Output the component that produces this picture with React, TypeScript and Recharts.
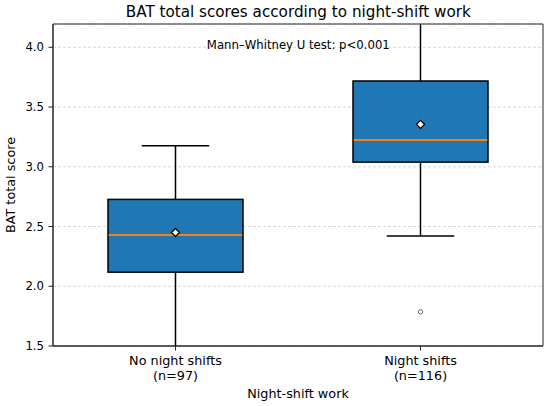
import React from 'react';
import { ComposedChart, Bar, XAxis, YAxis, CartesianGrid, ReferenceArea } from 'recharts';

const categories = ['No night shifts', 'Night shifts'];
const sampleSizes = [97, 116];
const q1Values = [2.118, 3.039];
const medianValues = [2.428, 3.224];
const q3Values = [2.727, 3.718];
const meanValues = [2.45, 3.355];
const whiskerLow = [1.35, 2.42];
const whiskerHigh = [3.176, 4.45];
const outlierValues: number[][] = [[], [1.786]];
const yTicks = [1.5, 2.0, 2.5, 3.0, 3.5, 4.0];
const yDomain: [number, number] = [1.5, 4.195];

const data = categories.map((name, i) => ({
  name,
  n: sampleSizes[i],
  q1: q1Values[i],
  median: medianValues[i],
  q3: q3Values[i],
  mean: meanValues[i],
  wlo: whiskerLow[i],
  whi: whiskerHigh[i],
  outliers: outlierValues[i],
}));

const FONT = '"DejaVu Sans", sans-serif';
const AXIS = '#262626';

const BoxShape = (props: any) => {
  const { x, y, width, height, payload } = props;
  if (payload == null || !height) return null;
  const k = height / (payload.q3 - payload.q1);
  const py = (v: number) => y + (payload.q3 - v) * k;
  const cx = x + width / 2;
  const capHalf = width / 4;
  const my = py(payload.mean);
  const d = 4;
  return (
    <g>
      <line x1={cx} x2={cx} y1={py(payload.q3)} y2={py(payload.whi)} stroke="#000" strokeWidth={1.5} />
      <line x1={cx} x2={cx} y1={py(payload.q1)} y2={py(payload.wlo)} stroke="#000" strokeWidth={1.5} />
      <line x1={cx - capHalf} x2={cx + capHalf} y1={py(payload.whi)} y2={py(payload.whi)} stroke="#000" strokeWidth={1.5} />
      <line x1={cx - capHalf} x2={cx + capHalf} y1={py(payload.wlo)} y2={py(payload.wlo)} stroke="#000" strokeWidth={1.5} />
      <rect x={x} y={y} width={width} height={height} fill="#1f77b4" stroke="#000" strokeWidth={1.5} />
      <line x1={x + 0.75} x2={x + width - 0.75} y1={py(payload.median)} y2={py(payload.median)} stroke="#ff7f0e" strokeWidth={2} />
      <polygon
        points={`${cx},${my - d} ${cx + d},${my} ${cx},${my + d} ${cx - d},${my}`}
        fill="#fff"
        stroke="#000"
        strokeWidth={1.3}
      />
      {payload.outliers.map((o: number, j: number) => (
        <circle key={j} cx={cx} cy={py(o)} r={2.2} fill="#fff" stroke="#666" strokeWidth={1} />
      ))}
    </g>
  );
};

const XTick = (props: any) => {
  const { x, y, payload, index } = props;
  const n = sampleSizes[index] ?? data.find((r) => r.name === payload.value)?.n;
  return (
    <text x={x} y={y} textAnchor="middle" fontFamily={FONT} fontSize={12.8} fill="#000">
      <tspan x={x} dy={12.7}>{payload.value}</tspan>
      <tspan x={x} dy={14.3}>{`(n=${n})`}</tspan>
    </text>
  );
};

export default function App() {
  return (
    <div style={{ position: 'absolute', left: 0, top: 0, width: 550, height: 406, background: '#fff' }}>
      <ComposedChart
        width={550}
        height={406}
        data={data}
        margin={{ top: 24, right: 7, bottom: 0, left: 0 }}
        barSize={135}
      >
        <CartesianGrid vertical={false} stroke="#cfcfcf" strokeDasharray="3 2" strokeWidth={0.8} />
        <XAxis
          dataKey="name"
          type="category"
          height={60}
          tickSize={4.5}
          tickMargin={2}
          tick={<XTick />}
          axisLine={{ stroke: AXIS, strokeWidth: 1 }}
          tickLine={{ stroke: AXIS, strokeWidth: 1 }}
          label={{ value: 'Night-shift work', position: 'insideBottom', offset: 8, fontFamily: FONT, fontSize: 12.8, fill: '#000' }}
        />
        <YAxis
          type="number"
          domain={yDomain}
          ticks={yTicks}
          allowDataOverflow
          width={53}
          tickSize={4.5}
          tickMargin={4.5}
          tickFormatter={(v: number) => v.toFixed(1)}
          tick={{ fontFamily: FONT, fontSize: 11.7, fill: '#000' }}
          axisLine={{ stroke: AXIS, strokeWidth: 1 }}
          tickLine={{ stroke: AXIS, strokeWidth: 1 }}
          label={{
            value: 'BAT total score',
            angle: -90,
            position: 'insideLeft',
            offset: 10,
            style: { textAnchor: 'middle' },
            fontFamily: FONT,
            fontSize: 12.8,
            fill: '#000',
          }}
        />
        <ReferenceArea
          y1={yDomain[0]}
          y2={yDomain[1]}
          fill="none"
          fillOpacity={0}
          stroke={AXIS}
          strokeWidth={1}
          ifOverflow="visible"
        />
        <Bar
          dataKey={(d: any) => [d.q1, d.q3]}
          shape={<BoxShape />}
          isAnimationActive={false}
        />
      </ComposedChart>
      <svg
        width={550}
        height={406}
        style={{ position: 'absolute', left: 0, top: 0, pointerEvents: 'none' }}
      >
        <text x={298.3} y={16.5} textAnchor="middle" fontFamily={FONT} fontSize={15.2} fill="#000">
          BAT total scores according to night-shift work
        </text>
        <text x={298.3} y={48.7} textAnchor="middle" fontFamily={FONT} fontSize={11.7} fill="#000">
          Mann–Whitney U test: p&lt;0.001
        </text>
      </svg>
    </div>
  );
}
